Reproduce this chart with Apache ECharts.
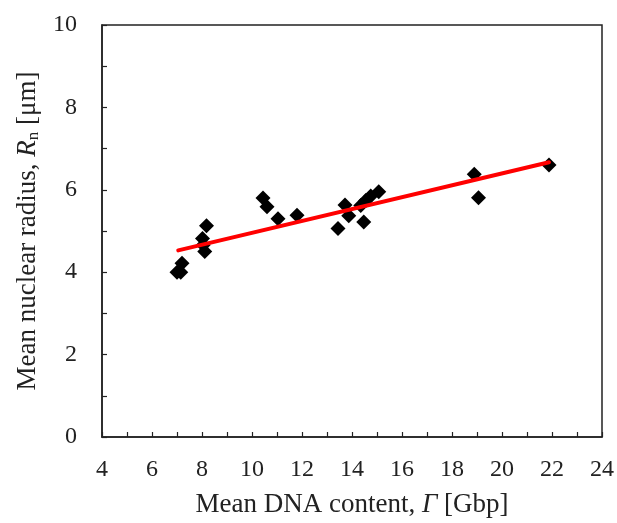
<!DOCTYPE html>
<html><head><meta charset="utf-8">
<script src="https://cdn.jsdelivr.net/npm/echarts@6/dist/echarts.min.js"></script>
<style>html,body{margin:0;padding:0;background:#fff}#c{width:617px;height:523px}</style>
</head><body><div id="c"></div>
<script>
var dnaContent = [7.0, 7.15, 7.2, 8.02, 8.05, 8.11, 8.18, 10.44, 10.6, 11.04, 11.8, 13.44, 13.72, 13.87, 14.35, 14.47, 14.55, 14.75, 15.07, 18.89, 19.06, 21.88];
var nuclearRadius = [4.0, 4.0, 4.22, 4.82, 4.66, 4.5, 5.13, 5.8, 5.59, 5.3, 5.38, 5.06, 5.63, 5.37, 5.62, 5.22, 5.74, 5.85, 5.95, 6.38, 5.81, 6.6];
var fitX = [7.05, 21.88];
var fitY = [4.53, 6.67];
var xTicks = {min: 4, max: 24, step: 1, labelEvery: 2};
var yTicks = {min: 0, max: 10, step: 1, labelEvery: 2};

var points = dnaContent.map(function(x, i){ return [x, nuclearRadius[i]]; });
var fit = fitX.map(function(x, i){ return [x, fitY[i]]; });
var font = "'Liberation Serif', 'DejaVu Serif', serif";
var chart = echarts.init(document.getElementById('c'), null, {renderer: 'canvas'});
chart.setOption({
  animation: false,
  backgroundColor: '#fff',
  grid: {left: 102, right: 14, top: 25, bottom: 85, show: true, borderColor: '#222', borderWidth: 1.5, backgroundColor: 'transparent'},
  xAxis: {
    type: 'value', min: xTicks.min, max: xTicks.max, interval: xTicks.step,
    axisLine: {lineStyle: {color: '#222', width: 1.5}},
    axisTick: {inside: true, length: 5, lineStyle: {color: '#222', width: 1.2}},
    axisLabel: {margin: 21, color: '#222', fontSize: 24, fontFamily: font,
      formatter: function(v){ return (v - xTicks.min) % xTicks.labelEvery === 0 ? String(v) : ''; }},
    splitLine: {show: false},
    name: '{n|Mean DNA content, }{i|Γ}{n| [Gbp]}',
    nameLocation: 'middle', nameGap: 54,
    nameTextStyle: {rich: {n: {fontSize: 27, fontFamily: font, color: '#222'}, i: {fontSize: 27, fontFamily: font, fontStyle: 'italic', color: '#222'}}}
  },
  yAxis: {
    type: 'value', min: yTicks.min, max: yTicks.max, interval: yTicks.step,
    axisLine: {lineStyle: {color: '#222', width: 1.5}},
    axisTick: {inside: true, length: 5, lineStyle: {color: '#222', width: 1.2}},
    axisLabel: {margin: 25, color: '#222', fontSize: 24, fontFamily: font,
      formatter: function(v){ return (v - yTicks.min) % yTicks.labelEvery === 0 ? String(v) : ''; }},
    splitLine: {show: false},
    name: '{n|Mean nuclear radius, }{i|R}{s|n}{n| [μm]}',
    nameLocation: 'middle', nameGap: 60,
    nameTextStyle: {rich: {
      n: {fontSize: 27, fontFamily: font, color: '#222'},
      i: {fontSize: 27, fontFamily: font, fontStyle: 'italic', color: '#222'},
      s: {fontSize: 17, fontFamily: font, color: '#222', verticalAlign: 'bottom', padding: [11, 0, 0, 0]}
    }}
  },
  series: [
    {type: 'scatter', data: points, symbol: 'diamond', symbolSize: 15, itemStyle: {color: '#000', opacity: 1}, z: 2},
    {type: 'line', data: fit, symbol: 'none', lineStyle: {color: '#ff0000', width: 4, cap: 'round'}, z: 3}
  ]
});
</script></body></html>
